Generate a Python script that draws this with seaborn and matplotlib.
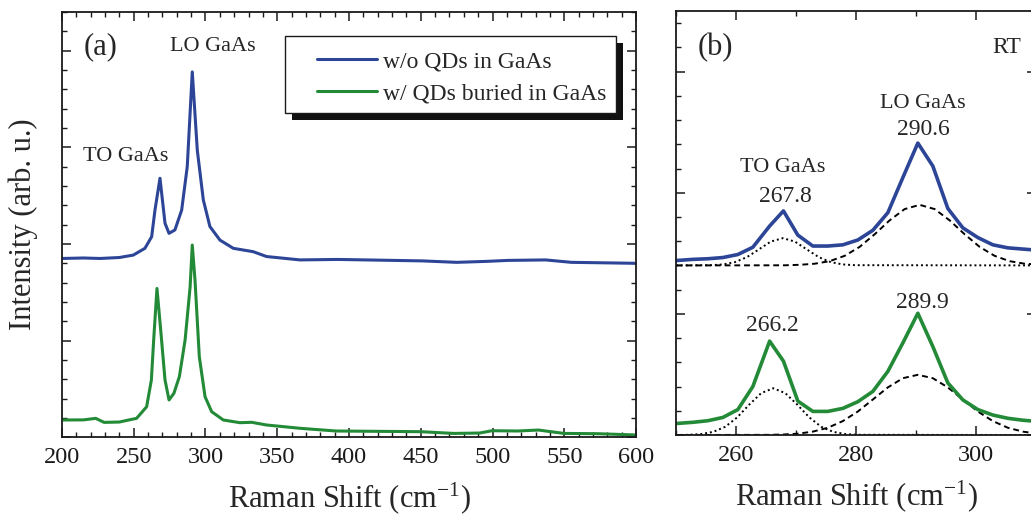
import matplotlib
matplotlib.use("Agg")
import matplotlib.pyplot as plt
import matplotlib.patheffects as pe
from matplotlib.patches import Rectangle
from matplotlib.ticker import MultipleLocator, NullFormatter
import seaborn as sns

# ---- panel (a): full spectra ----
wo_x = [200, 215, 226.5, 240, 249.7, 257.8, 262.5, 264.8, 268.3, 271.8, 274.6,
        278.7, 283.4, 287.3, 290.8, 294.3, 298.5, 303.1, 310.1, 319.4, 333.3,
        342.6, 365.9, 392, 451, 475, 496, 510.6, 537, 555, 600]
wo_y = [1.85, 1.855, 1.85, 1.86, 1.885, 1.955, 2.075, 2.35, 2.68, 2.215, 2.11,
        2.145, 2.35, 2.80, 3.78, 2.97, 2.455, 2.18, 2.04, 1.955, 1.92,
        1.87, 1.835, 1.84, 1.825, 1.81, 1.82, 1.83, 1.835, 1.81, 1.80]

qd_x = [200, 215, 223.5, 229.4, 240, 252, 259, 262.3, 263.9, 266.2, 268.8,
        271.8, 274.6, 278, 281.8, 285.8, 289.3, 290.8, 292.7, 295.7, 299.7,
        304.3, 312.4, 324, 332.2, 342.6, 365.9, 391, 449.8, 473, 491, 499.7,
        517.4, 532, 549.8, 573.3, 600]
qd_y = [0.179, 0.18, 0.196, 0.154, 0.158, 0.196, 0.316, 0.593, 1.006, 1.54, 1.11,
        0.593, 0.386, 0.455, 0.627, 1.006, 1.557, 1.989, 1.627, 0.834, 0.42,
        0.265, 0.179, 0.151, 0.155, 0.127, 0.093, 0.065, 0.058, 0.04, 0.044, 0.068,
        0.065, 0.075, 0.04, 0.037, 0.024]

# ---- panel (b): zoom on phonon region with fits ----
zb_x = [250, 252.8, 255.3, 257.8, 260.3, 262.8, 265.6, 267.9, 270.3, 272.8, 275.3,
        277.8, 280.3, 282.8, 285.3, 287.8, 290.3, 292.8, 295.3, 297.8, 300.3,
        302.8, 305.3, 307.8, 310.3]
wo_zb = [1.44, 1.45, 1.455, 1.465, 1.49, 1.55, 1.725, 1.85, 1.65, 1.56, 1.56,
         1.57, 1.61, 1.69, 1.835, 2.125, 2.41, 2.22, 1.87, 1.71, 1.63,
         1.57, 1.545, 1.535, 1.525]
qd_zb = [0.095, 0.105, 0.118, 0.145, 0.21, 0.40, 0.775, 0.61, 0.28, 0.195, 0.195,
         0.22, 0.275, 0.36, 0.525, 0.76, 1.005, 0.73, 0.43, 0.29, 0.21,
         0.165, 0.138, 0.122, 0.112]

wo_to_x = [250, 255.8, 257.8, 259.8, 261.8, 263.8, 265.8, 267.8, 269.8, 271.8,
           273.8, 275.8, 277.8, 279.8, 310.5]
wo_to_y = [1.40, 1.402, 1.408, 1.427, 1.468, 1.532, 1.597, 1.625, 1.597, 1.532,
           1.468, 1.427, 1.408, 1.402, 1.40]
wo_lo_x = [250, 268.1, 270.6, 273.1, 275.6, 278.1, 280.6, 283.1, 285.6, 288.1,
           290.6, 293.1, 295.6, 298.1, 300.6, 303.1, 305.6, 308.1, 310.5]
wo_lo_y = [1.40, 1.401, 1.405, 1.414, 1.435, 1.479, 1.553, 1.657, 1.772, 1.865,
           1.90, 1.865, 1.772, 1.657, 1.553, 1.479, 1.435, 1.414, 1.407]

qd_to_x = [250, 252.2, 254.2, 256.2, 258.2, 260.2, 262.2, 264.2, 266.2, 268.2,
           270.2, 272.2, 274.2, 276.2, 278.2, 280.2, 310.5]
qd_to_y = [0.0, 0.002, 0.008, 0.026, 0.068, 0.146, 0.251, 0.346, 0.386, 0.346,
           0.251, 0.146, 0.068, 0.026, 0.008, 0.002, 0.0]
qd_lo_x = [250, 265.3, 267.8, 270.3, 272.8, 275.3, 277.8, 280.3, 282.8, 285.3,
           287.8, 290.3, 292.8, 295.3, 297.8, 300.3, 302.8, 305.3, 307.8, 310.3]
qd_lo_y = [0.0, 0.0015, 0.004, 0.011, 0.028, 0.060, 0.115, 0.194, 0.293, 0.393,
           0.469, 0.497, 0.469, 0.393, 0.293, 0.194, 0.115, 0.060, 0.028, 0.011]

BLUE = "#2d4597"
GREEN = "#238a37"
INK = "#1a1a1a"

sns.set_style("ticks")
plt.rcParams["font.family"] = ["Liberation Serif", "DejaVu Serif"]
plt.rcParams["mathtext.default"] = "regular"

fig = plt.figure(figsize=(10.31, 5.15), dpi=100)
ax_a = fig.add_axes([0.0601, 0.1509, 0.5568, 0.8258])
ax_b = fig.add_axes([0.6557, 0.1553, 0.3492, 0.8233])

sns.lineplot(x=wo_x, y=wo_y, ax=ax_a, color=BLUE, lw=2.2, label="w/o QDs in GaAs")
sns.lineplot(x=qd_x, y=qd_y, ax=ax_a, color=GREEN, lw=2.2, label="w/ QDs buried in GaAs")

sns.lineplot(x=wo_to_x, y=wo_to_y, ax=ax_b, color="k", lw=1.4, ls=(0, (1, 1.5)))
sns.lineplot(x=wo_lo_x, y=wo_lo_y, ax=ax_b, color="k", lw=1.4, ls=(0, (3, 2)))
sns.lineplot(x=qd_to_x, y=qd_to_y, ax=ax_b, color="k", lw=1.4, ls=(0, (1, 1.5)))
sns.lineplot(x=qd_lo_x, y=qd_lo_y, ax=ax_b, color="k", lw=1.4, ls=(0, (3, 2)))
sns.lineplot(x=zb_x, y=wo_zb, ax=ax_b, color=BLUE, lw=2.6)
sns.lineplot(x=zb_x, y=qd_zb, ax=ax_b, color=GREEN, lw=2.6)

ax_a.set_xlim(200, 600)
ax_a.set_ylim(0, 4.4)
ax_b.set_xlim(250, 310)
ax_b.set_ylim(0, 3.5)

ax_a.xaxis.set_major_locator(MultipleLocator(50))
ax_a.xaxis.set_minor_locator(MultipleLocator(10))
ax_b.xaxis.set_major_locator(MultipleLocator(20))
ax_b.xaxis.set_minor_locator(MultipleLocator(10))
for ax in (ax_a, ax_b):
    ax.yaxis.set_major_locator(MultipleLocator(1))
    ax.yaxis.set_minor_locator(MultipleLocator(0.2))
    ax.yaxis.set_major_formatter(NullFormatter())
    ax.tick_params(which="both", direction="in", top=True, right=True,
                   labelsize=17.5, pad=7, colors=INK)
    ax.tick_params(which="major", length=6.5, width=1.1)
    ax.tick_params(which="minor", length=3.8, width=1.0)
    for sp in ax.spines.values():
        sp.set_linewidth(1.3)
        sp.set_color(INK)
    ax.set_xlabel(r"Raman Shift (cm$^{-1}$)", fontsize=22, labelpad=9)
    ax.set_ylabel("")

ax_a.set_ylabel("Intensity (arb. u.)", fontsize=22, labelpad=10)

# legend box with a hard black drop shadow, drawn as its own patch
box = Rectangle((0.3885, 0.7625), 0.5765, 0.1811, transform=ax_a.transAxes,
                facecolor="white", edgecolor=INK, lw=1.0, zorder=5)
box.set_path_effects([
    pe.SimplePatchShadow(offset=(5, -5), shadow_rgbFace="#111111", alpha=1),
    pe.Normal(),
])
ax_a.add_patch(box)
leg = ax_a.legend(loc="upper left", bbox_to_anchor=(0.4437, 0.908), borderaxespad=0,
                  fontsize=17, frameon=False, handlelength=2.55, handletextpad=0.25,
                  borderpad=0, labelspacing=0.42)
leg.set_zorder(6)

ax_a.text(227.2, 4.04, "(a)", fontsize=22, ha="center", va="center")
ax_a.text(305.2, 4.04, "LO GaAs", fontsize=16, ha="center", va="center")
ax_a.text(244.6, 2.91, "TO GaAs", fontsize=16, ha="center", va="center")

ax_b.text(256.5, 3.2, "(b)", fontsize=22, ha="center", va="center")
ax_b.text(305.2, 3.2, "RT", fontsize=17, ha="center", va="center")
ax_b.text(291.2, 2.74, "LO GaAs", fontsize=16, ha="center", va="center")
ax_b.text(291.2, 2.52, "290.6", fontsize=17, ha="center", va="center")
ax_b.text(267.8, 2.21, "TO GaAs", fontsize=16, ha="center", va="center")
ax_b.text(268.2, 1.965, "267.8", fontsize=17, ha="center", va="center")
ax_b.text(291.0, 1.095, "289.9", fontsize=17, ha="center", va="center")
ax_b.text(266.0, 0.905, "266.2", fontsize=17, ha="center", va="center")

fig.savefig("out.png", dpi=100)
